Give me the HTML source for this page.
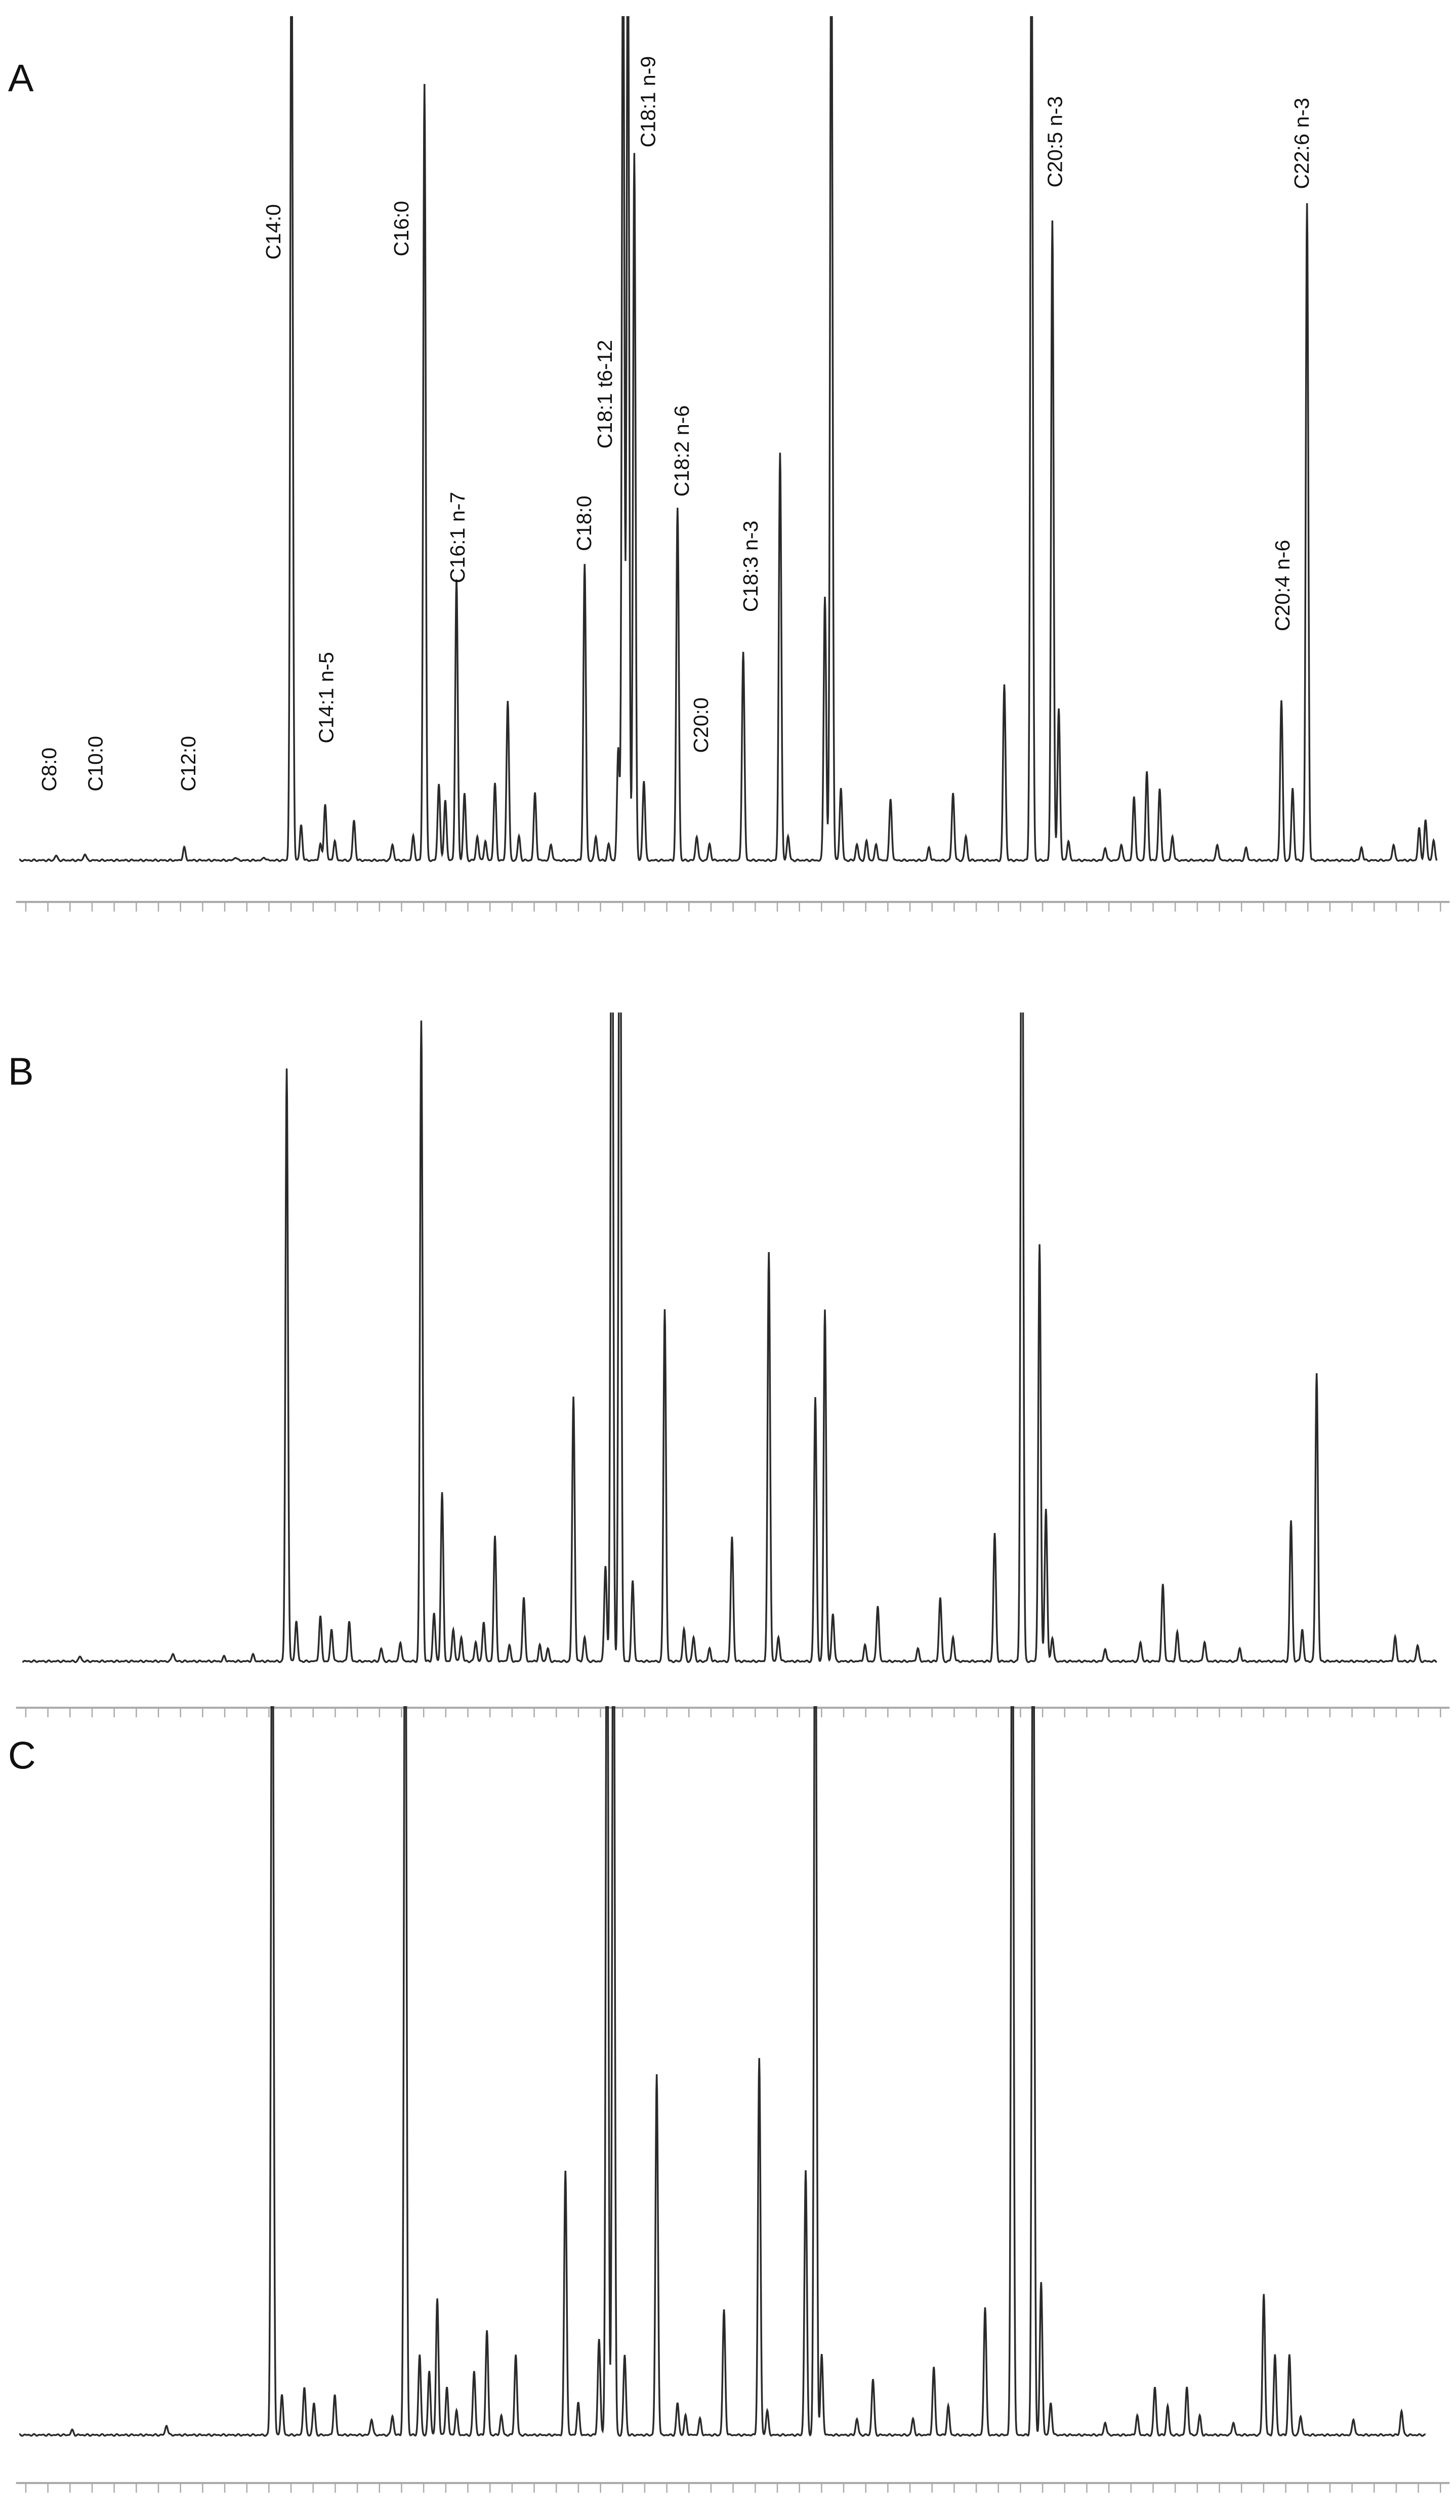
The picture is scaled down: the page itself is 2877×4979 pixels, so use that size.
<!DOCTYPE html>
<html><head><meta charset="utf-8"><style>
html,body{margin:0;padding:0;background:#fff;}
svg{display:block;}
text{font-family:"Liberation Sans",sans-serif;fill:#111;}
</style></head><body>
<svg id="chart" width="2877" height="4979" viewBox="0 0 909 1573" xmlns="http://www.w3.org/2000/svg">
<rect width="909" height="1573" fill="#fff"/>
<text x="5" y="57" font-size="24">A</text>
<text x="5" y="677" font-size="24">B</text>
<text x="5" y="1104" font-size="24">C</text>
<g id="layer"></g>
</svg>
<script>
// Retention positions (min-scale units mapped to px) and peak heights per panel
const peaksA_x = [35,53,115,147,165,182,188,200,203,209,221,245,258,265,274,278,285,290,298,303,309,317,324,334,344,365,372,380,386,389,392,396,402,423,435,443,464,487,492,515,519,525,535,541,547,556,580,595,603,627,644,657,661,667,690,700,708,716,724,732,760,778,800,807,816,850,870,886,890,895];
const peaksA_h = [3,4,8,2,2,600,22,10,35,12,25,10,15,485,48,38,175,42,15,12,48,100,15,42,10,185,15,10,70,600,600,442,50,220,15,10,130,255,15,165,600,45,10,12,10,38,8,42,15,110,600,400,95,12,8,10,40,55,45,15,10,8,100,45,410,8,10,20,25,12];
const peaksB_x = [50,108,140,158,179,185,200,207,218,238,250,263,271,276,283,288,297,302,309,318,327,337,342,358,365,378,382,387,395,415,427,433,443,457,480,486,509,515,520,540,548,573,587,595,621,638,649,653,657,690,712,726,735,752,774,806,813,822,871,885];
const peaksB_h = [3,5,3,4,370,25,28,20,25,8,12,400,30,105,20,15,12,25,78,10,40,10,8,165,15,60,600,600,50,220,20,15,8,78,255,15,165,220,30,10,35,8,40,15,80,600,260,95,15,8,12,48,18,12,8,88,20,180,15,10];
const peaksC_x = [45,104,170,176,190,196,209,232,245,253,262,268,273,279,285,296,304,313,322,353,361,374,379,383,390,410,423,428,437,452,474,479,503,509,513,535,545,570,583,592,615,632,645,650,656,690,710,721,729,741,749,770,789,796,805,812,845,875];
const peaksC_h = [3,6,600,25,30,20,25,10,12,600,50,40,85,30,15,40,65,12,50,165,20,60,600,600,50,225,20,12,10,78,235,15,165,600,50,10,35,10,42,18,80,600,600,95,20,8,12,30,18,30,12,8,88,50,50,12,10,15];
const labelsA = ["C8:0","C10:0","C12:0","C14:0","C14:1 n-5","C16:0","C16:1 n-7","C18:0","C18:1 t6-12","C18:1 n-9","C18:2 n-6","C20:0","C18:3 n-3","C20:5 n-3","C20:4 n-6","C22:6 n-3"];
const labelsA_x = [35,64,122,175,208,255,290,369,382,409,430,442,473,663,805,817];
const labelsA_bottom = [494,494,494,162,464,160,364,344,280,92,310,470,382,117,394,118];

const NS="http://www.w3.org/2000/svg";
const layer=document.getElementById('layer');
const panels=[
 {id:'a',xs:peaksA_x,hs:peaksA_h,base:537,top:10,x0:12,x1:897,axis:563},
 {id:'b',xs:peaksB_x,hs:peaksB_h,base:1037,top:632,x0:14,x1:897,axis:1066},
 {id:'c',xs:peaksC_x,hs:peaksC_h,base:1520,top:1065,x0:12,x1:890,axis:1550}
];
panels.forEach(p=>{
  const cp=document.createElementNS(NS,'clipPath');
  cp.setAttribute('id','clip-'+p.id);
  const r=document.createElementNS(NS,'rect');
  r.setAttribute('x',0);r.setAttribute('y',p.top);r.setAttribute('width',909);r.setAttribute('height',p.base-p.top+20);
  cp.appendChild(r);layer.appendChild(cp);
  let d='';
  for(let x=p.x0;x<=p.x1;x+=0.25){
    let h=0;
    for(let i=0;i<p.xs.length;i++){const t=(x-p.xs[i])/1.1;if(Math.abs(t)<6)h+=p.hs[i]*Math.exp(-t*t);}
    const y=p.base-h+0.6*Math.sin(x*1.7)*Math.sin(x*0.37);
    d+=(d?'L':'M')+x.toFixed(2)+','+y.toFixed(2);
  }
  const path=document.createElementNS(NS,'path');
  path.setAttribute('d',d);path.setAttribute('fill','none');path.setAttribute('stroke','#2a2a2a');
  path.setAttribute('stroke-width','1.1');path.setAttribute('clip-path','url(#clip-'+p.id+')');
  
  
  layer.appendChild(path);
  const ax=document.createElementNS(NS,'g');
  
  
  const ln=document.createElementNS(NS,'line');
  ln.setAttribute('x1',10);ln.setAttribute('x2',905);ln.setAttribute('y1',p.axis);ln.setAttribute('y2',p.axis);
  ln.setAttribute('stroke','#aaa');ln.setAttribute('stroke-width','1.3');
  ax.appendChild(ln);
  for(let tx=16.1;tx<905;tx+=13.8){
    const tk=document.createElementNS(NS,'line');
    tk.setAttribute('x1',tx);tk.setAttribute('x2',tx);tk.setAttribute('y1',p.axis);tk.setAttribute('y2',p.axis+6);
    tk.setAttribute('stroke','#aaa');tk.setAttribute('stroke-width','0.8');
    
    
    ax.appendChild(tk);
  }
  layer.appendChild(ax);
});
labelsA.forEach((s,i)=>{
  const t=document.createElementNS(NS,'text');
  t.setAttribute('x',0);t.setAttribute('y',0);t.setAttribute('font-size','13');
  t.setAttribute('transform','translate('+labelsA_x[i]+','+labelsA_bottom[i]+') rotate(-90)');
  t.textContent=s;
  
  
  layer.appendChild(t);
});
</script>
</body></html>
